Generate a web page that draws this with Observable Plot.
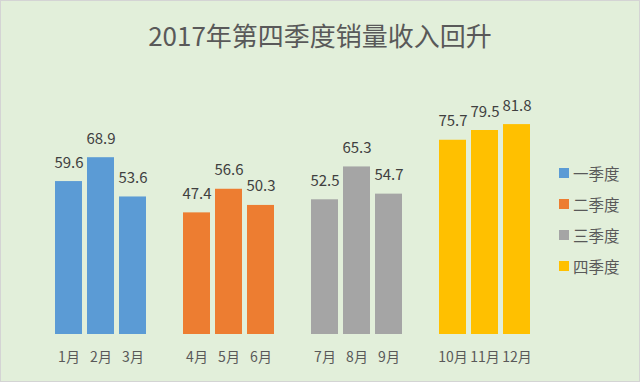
<!DOCTYPE html>
<html>
<head>
<meta charset="utf-8">
<script src="https://cdn.jsdelivr.net/npm/d3@7"></script>
<script src="https://cdn.jsdelivr.net/npm/@observablehq/plot@0.6"></script>
<style>
  html, body { margin: 0; padding: 0; background: #fff; }
  #chart {
    position: relative; width: 640px; height: 382px; box-sizing: border-box;
    background: #E2EFDA; outline: 1px solid #d4d4d4; outline-offset: -1px;
    font-family: "Noto Sans CJK SC", "Noto Sans", sans-serif; overflow: hidden;
  }
  #title {
    height: 62px; box-sizing: border-box; padding-top: 19px;
    text-align: center; font-size: 26px; line-height: 32px; color: #595959;
  }
  #legend { position: absolute; left: 559px; top: 157px; }
  .item { display: flex; align-items: center; height: 31px; font-size: 15.5px; color: #595959; }
  .sw { width: 10px; height: 10px; margin-right: 4px; }
  svg { display: block; }
</style>
</head>
<body>
<div id="chart">
  <div id="title">2017年第四季度销量收入回升</div>
  <div id="plot"></div>
  <div id="legend"></div>
</div>
<script>
const months = ["1月","2月","3月","4月","5月","6月","7月","8月","9月","10月","11月","12月"];
const values = [59.6, 68.9, 53.6, 47.4, 56.6, 50.3, 52.5, 65.3, 54.7, 75.7, 79.5, 81.8];
const quarters = ["一季度","二季度","三季度","四季度"];
const colors = ["#5B9BD5","#ED7D31","#A5A5A5","#FFC000"];

const data = months.map((m, i) => ({month: m, value: values[i], quarter: quarters[Math.floor(i / 3)]}));
// x domain: months with an empty slot after each quarter
const slots = [];
months.forEach((m, i) => { slots.push(m); if (i % 3 === 2 && i < 11) slots.push("_gap" + i); });

const plot = Plot.plot({
  width: 640,
  height: 320,
  marginLeft: 54.5,
  marginRight: 110.6,
  marginTop: 15.4,
  marginBottom: 48,
  style: {background: "transparent", fontFamily: "'Noto Sans CJK SC', sans-serif"},
  x: {domain: slots, paddingInner: 0.16, paddingOuter: 0, axis: null},
  y: {domain: [0, 100], axis: null},
  color: {domain: quarters, range: colors},
  marks: [
    Plot.barY(data, {x: "month", y: "value", fill: "quarter"}),
    Plot.text(data, {x: "month", y: "value", text: d => d.value.toFixed(1), lineAnchor: "bottom", dy: -14, fontSize: 15, fill: "#404040"}),
    Plot.axisX({tickSize: 0, tickPadding: 18, fontSize: 14, color: "#595959", label: null,
      tickFormat: d => d.startsWith("_gap") ? "" : d})
  ]
});
document.getElementById("plot").appendChild(plot);

const legend = document.getElementById("legend");
quarters.forEach((q, i) => {
  const it = document.createElement("div");
  it.className = "item";
  it.innerHTML = `<span class="sw" style="background:${colors[i]}"></span><span>${q}</span>`;
  legend.appendChild(it);
});
</script>
</body>
</html>
